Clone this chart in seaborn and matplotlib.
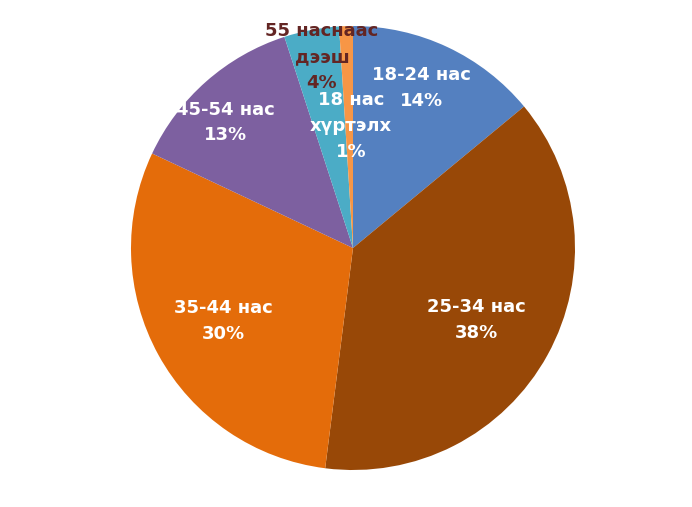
import matplotlib
matplotlib.use("Agg")
import matplotlib.pyplot as plt
import seaborn as sns

# --- Dane ---
categories = ["18-24 нас", "25-34 нас", "35-44 нас", "45-54 нас",
              "55 наснаас\nдээш", "18 нас\nхүртэлх"]
shares = [14, 38, 30, 13, 4, 1]
colors = ["#5480c0", "#984807", "#e46c0a", "#7d60a0", "#4bacc6", "#f79646"]
text_colors = ["white", "white", "white", "white", "#632523", "white"]

# --- Pozycje etykiet (współrzędne osi, promień = 1) ---
label_pos = [(0.31, 0.72), (0.555, -0.325), (-0.585, -0.33), (-0.575, 0.565),
             (-0.14, 0.86), (-0.01, 0.55)]

sns.set_theme(style="white")
plt.rcParams["font.family"] = ["DejaVu Sans"]

fig = plt.figure(figsize=(6.92, 5.07), dpi=100)
ax = fig.add_axes([(353 - 222) / 692, (507 - 248 - 222) / 507, 444 / 692, 444 / 507])

ax.pie(shares, colors=colors, startangle=90, counterclock=False, radius=1,
       wedgeprops=dict(linewidth=0))

for cat, val, pos, tc in zip(categories, shares, label_pos, text_colors):
    ax.text(pos[0], pos[1], f"{cat}\n{val}%", ha="center", va="center",
            color=tc, fontsize=13, fontweight="bold", linespacing=1.55)

ax.set_xlim(-1, 1)
ax.set_ylim(-1, 1)
ax.set_aspect("equal")
ax.axis("off")

fig.savefig("out.png", dpi=100)
